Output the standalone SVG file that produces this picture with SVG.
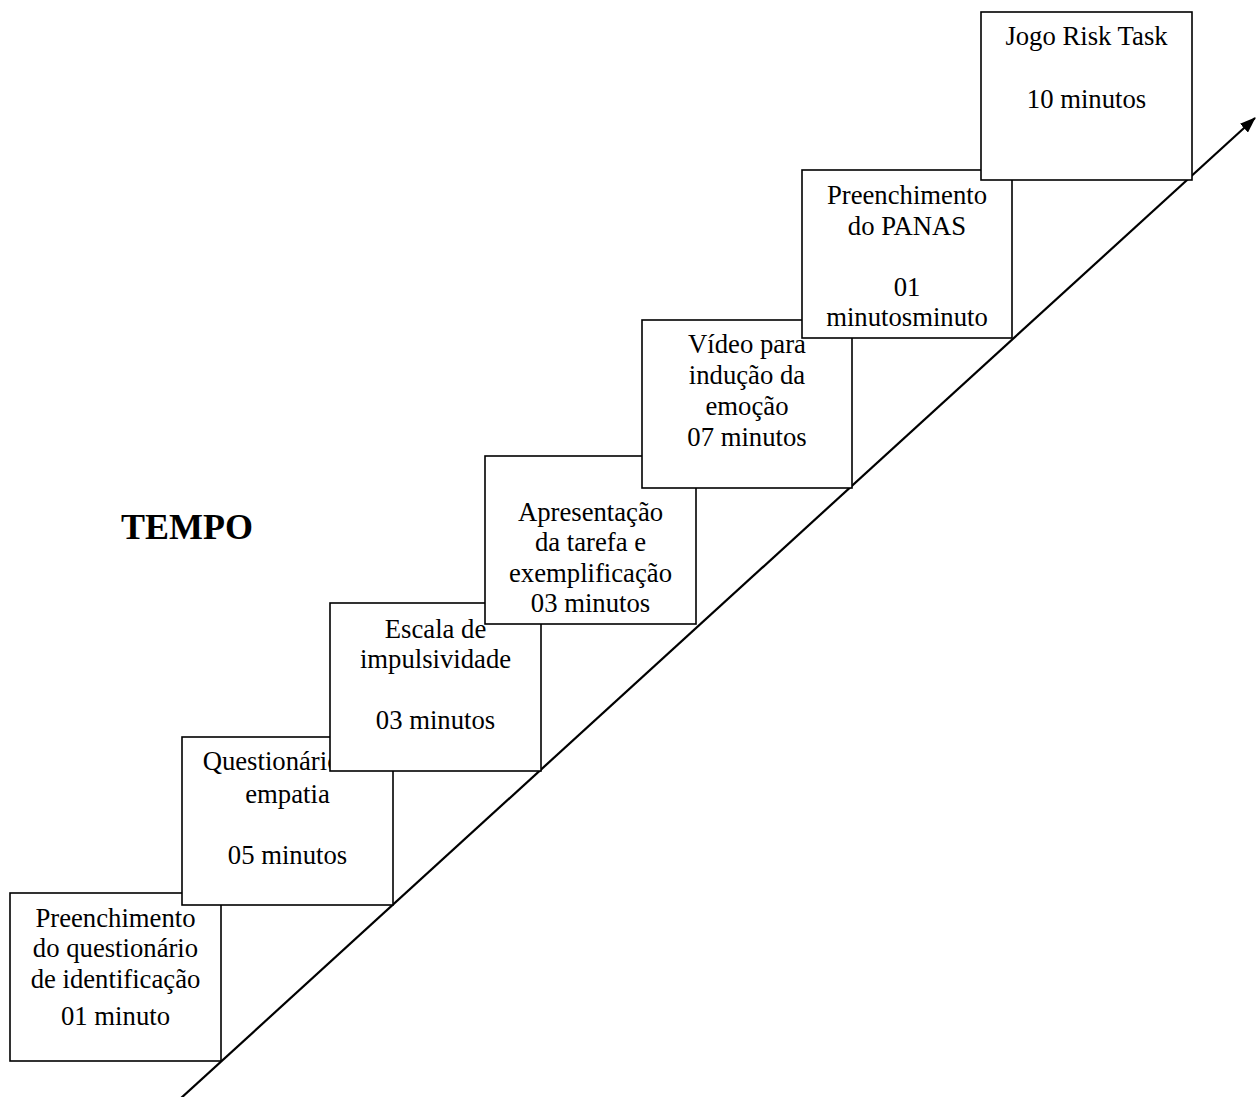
<svg xmlns="http://www.w3.org/2000/svg" width="1259" height="1097" viewBox="0 0 1259 1097">
<style>
.box rect { fill: #ffffff; stroke: #000000; stroke-width: 1.6; }
.box text { font-family: "Liberation Serif", "Times New Roman", serif; font-size: 26.7px; fill: #000000; text-anchor: middle; }
.title { font-family: "Liberation Serif", "Times New Roman", serif; font-size: 36px; font-weight: bold; fill: #000000; }
.conn { stroke: #000000; stroke-width: 2.2; fill: none; }
</style>
<defs>
<marker id="arrow" markerUnits="userSpaceOnUse" markerWidth="16" markerHeight="12" refX="15" refY="6" orient="auto">
<path d="M0,0 L16,6 L0,12 z" fill="#000000"/>
</marker>
</defs>
<g id="connectors">
<line class="conn" x1="180" y1="1099" x2="1255" y2="118" marker-end="url(#arrow)"/>
</g>
<text id="tempo" class="title" x="121" y="539">TEMPO</text>
<g id="node-identificacao" class="box">
<rect x="10" y="893" width="211" height="168"/>
<text x="115.5" y="926.7">Preenchimento</text>
<text x="115.5" y="957.3">do questionário</text>
<text x="115.5" y="988">de identificação</text>
<text x="115.5" y="1025">01 minuto</text>
</g>
<g id="node-empatia" class="box">
<rect x="182" y="737" width="211" height="168"/>
<text x="287.5" y="770.3">Questionário de</text>
<text x="287.5" y="803">empatia</text>
<text x="287.5" y="864">05 minutos</text>
</g>
<g id="node-impulsividade" class="box">
<rect x="330" y="603" width="211" height="168"/>
<text x="435.5" y="637.5">Escala de</text>
<text x="435.5" y="668.3">impulsividade</text>
<text x="435.5" y="729">03 minutos</text>
</g>
<g id="node-apresentacao" class="box">
<rect x="485" y="456" width="211" height="168"/>
<text x="590.5" y="521">Apresentação</text>
<text x="590.5" y="551.3">da tarefa e</text>
<text x="590.5" y="581.7">exemplificação</text>
<text x="590.5" y="611.7">03 minutos</text>
</g>
<g id="node-video" class="box">
<rect x="642" y="320" width="210" height="168"/>
<text x="747" y="353.3">Vídeo para</text>
<text x="747" y="384">indução da</text>
<text x="747" y="415">emoção</text>
<text x="747" y="446">07 minutos</text>
</g>
<g id="node-panas" class="box">
<rect x="802" y="170" width="210" height="168"/>
<text x="907" y="204">Preenchimento</text>
<text x="907" y="234.5">do PANAS</text>
<text x="907" y="295.7">01</text>
<text x="907" y="325.7">minutosminuto</text>
</g>
<g id="node-risk" class="box">
<rect x="981" y="12" width="211" height="168"/>
<text x="1086.5" y="45">Jogo Risk Task</text>
<text x="1086.5" y="107.7">10 minutos</text>
</g>
</svg>
